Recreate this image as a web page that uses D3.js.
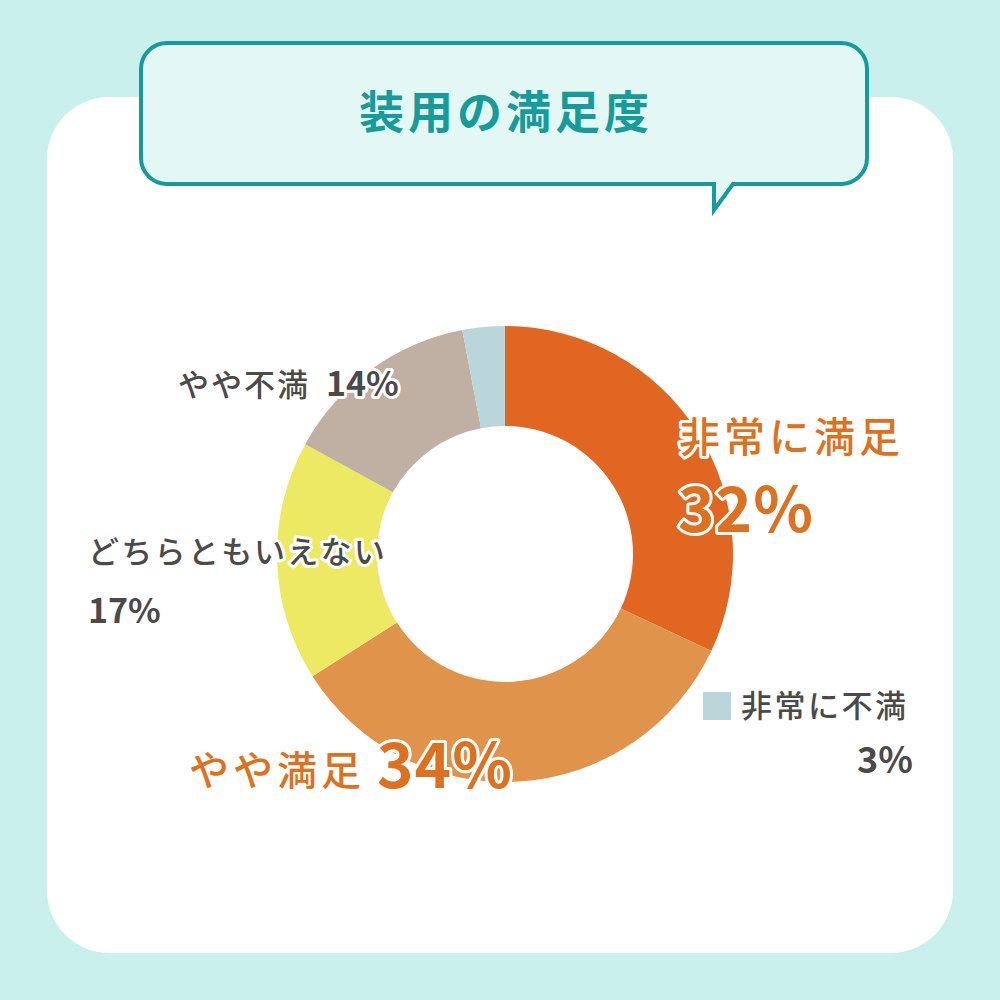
<!DOCTYPE html>
<html><head><meta charset="utf-8">
<script src="https://cdn.jsdelivr.net/npm/d3@7"></script>
<style>
html,body{margin:0;padding:0;background:#C9F0EC;}
svg{display:block;}
</style></head>
<body>
<svg id="c" width="1000" height="1000"></svg>
<script>
const title = "装用の満足度";
const categories = ["非常に満足", "やや満足", "どちらともいえない", "やや不満", "非常に不満"];
const values = [32, 34, 17, 14, 3];
const colors = ["#E06621", "#E0934B", "#EEE963", "#C0AFA3", "#BAD6DB"];

const svg = d3.select("#c");
const JP = "'Noto Sans CJK JP','Noto Sans',sans-serif";

svg.append("rect").attr("width",1000).attr("height",1000).attr("fill","#C9F0EC");
svg.append("rect").attr("x",47).attr("y",97).attr("width",906).attr("height",856).attr("rx",62).attr("fill","#ffffff");

// speech bubble
const bx0=141, by0=43, bx1=867, by1=184, r=26;
const bubble = d3.path();
bubble.moveTo(bx0+r,by0);
bubble.lineTo(bx1-r,by0);
bubble.arcTo(bx1,by0,bx1,by0+r,r);
bubble.lineTo(bx1,by1-r);
bubble.arcTo(bx1,by1,bx1-r,by1,r);
bubble.lineTo(733,by1);
bubble.lineTo(714,210);
bubble.lineTo(714,by1);
bubble.lineTo(bx0+r,by1);
bubble.arcTo(bx0,by1,bx0,by1-r,r);
bubble.lineTo(bx0,by0+r);
bubble.arcTo(bx0,by0,bx0+r,by0,r);
bubble.closePath();
svg.append("path").attr("d",bubble.toString()).attr("fill","#E3F8F5").attr("stroke","#169B9B").attr("stroke-width",4).attr("stroke-linejoin","miter");
svg.append("text").attr("x",506).attr("y",129).attr("text-anchor","middle")
  .attr("font-family",JP).attr("font-weight",700).attr("font-size",45).attr("letter-spacing",4)
  .attr("fill","#169B9B").text(title);

// donut
const cx=505, cy=554;
const pie = d3.pie().sort(null).value(d=>d)(values);
const arc = d3.arc().innerRadius(128).outerRadius(228);
const g = svg.append("g").attr("transform",`translate(${cx},${cy})`);
g.selectAll("path").data(pie).join("path").attr("d",arc).attr("fill",(d,i)=>colors[i]);

// labels
function label(x,y,txt,size,weight,fill,anchor,ls){
  svg.append("text").attr("x",x).attr("y",y).attr("text-anchor",anchor||"start")
    .attr("font-family",JP).attr("font-size",size).attr("font-weight",weight)
    .attr("letter-spacing",ls||0)
    .attr("fill",fill).attr("stroke","#ffffff").attr("stroke-width",6)
    .attr("stroke-linejoin","round").attr("paint-order","stroke").text(txt);
}
const orange="#DD7120", gray="#4A4A4A";
label(679,452,categories[0],41,500,orange,"start",4);
label(678,532,values[0]+"%",62,700,orange,"start",1);
label(189,785,categories[1],40,500,orange,"start",4);
label(377,788,values[1]+"%",62,700,orange,"start",1);
label(88,563,categories[2],31,500,gray,"start",2.3);
label(88,623,values[2]+"%",34,700,gray,"start",0);
label(178,396,categories[3],31,500,gray,"start",2);
label(326,396,values[3]+"%",34,700,gray,"start",0);

svg.append("rect").attr("x",703).attr("y",692).attr("width",28).attr("height",28).attr("fill",colors[4]);
label(741,717,categories[4],31,500,gray,"start",2.5);
label(913,773,values[4]+"%",36,700,gray,"end",0);
</script>
</body></html>
